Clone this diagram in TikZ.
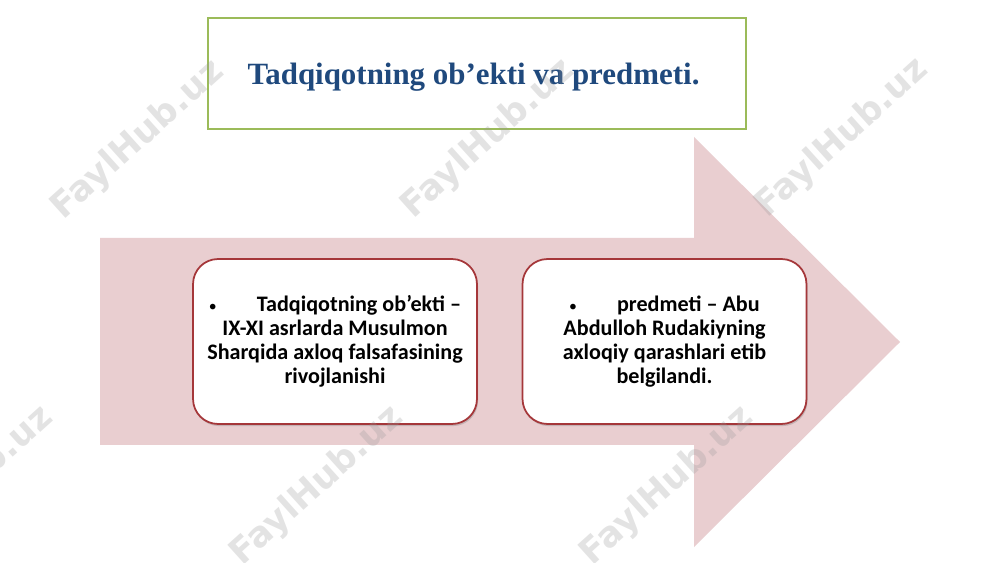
\documentclass[tikz,border=0pt]{standalone}
\usepackage{fontspec}
\setmainfont{Liberation Serif}
\newfontfamily\carlito{Carlito}
\newfontfamily\wmfont{DejaVu Sans}
\usetikzlibrary{shadows}
\definecolor{arrowpink}{RGB}{233,206,208}
\definecolor{titleblue}{RGB}{31,73,125}
\definecolor{olivebox}{RGB}{155,187,89}
\definecolor{cardred}{RGB}{165,55,58}
\newcommand{\smallbullet}{{\mdseries\fontsize{9}{9}\selectfont\textbullet}}
\tikzset{card/.style={draw=cardred, line width=1pt, fill=white, rounded corners=0.5cm,
		minimum width=5.68cm, minimum height=3.3cm, align=flush center, text width=5.4cm,
		font=\carlito\bfseries\fontsize{12.6}{13.7}\selectfont,
		drop shadow={shadow xshift=0.6pt, shadow yshift=-1.2pt, opacity=0.35}
	}
}

\begin{document}
\begin{tikzpicture}[x=0.02cm,y=-0.02cm]
				\tikzstyle{titlebox} = [draw=olivebox, line width=0.9pt, fill=white, minimum width=10.76cm, minimum height=2.22cm]
				\tikzstyle{wmark} = [text=black!40, opacity=0.27, rotate=42, font=\wmfont\bfseries\fontsize{20}{24}\selectfont]
				
				\fill [white] (0,0) rectangle (1000,563);
				\useasboundingbox (0,0) rectangle (1000,563);
				
				% big arrow behind the two cards
				\fill [arrowpink] (100,238) -- (694,238) -- (694,137) -- (900,342) -- (694,547) -- (694,445) -- (100,445) -- cycle;
				
				\node[titlebox] (title) at (477,73.5) {};
				\node [text=titleblue, font=\bfseries\fontsize{17.6}{20}\selectfont] (titletext) at (473.5,77) {Tadqiqotning ob’ekti va predmeti.};
				
				\node[card] (obyekt) at (335,341.5) {\smallbullet\hspace{0.8cm}Tadqiqotning ob’ekti –\\ IX-XI asrlarda Musulmon\\ Sharqida axloq falsafasining\\ rivojlanishi};
				\node[card] (predmet) at (664.5,341.5) {\smallbullet\hspace{0.8cm}predmeti – Abu\\ Abdulloh Rudakiyning\\ axloqiy qarashlari etib\\ belgilandi.};
				
				% watermarks
				\begin{scope}
					\clip (0,0) rectangle (1000,563);
					\foreach \wx/\wy [count=\i] in {138/140, 488/139, 842/138, -33/486, 317/486, 667/486}
						\node[wmark] (wm\i) at (\wx,\wy) {FaylHub.uz};
				\end{scope}
				
			\end{tikzpicture}
\end{document}
